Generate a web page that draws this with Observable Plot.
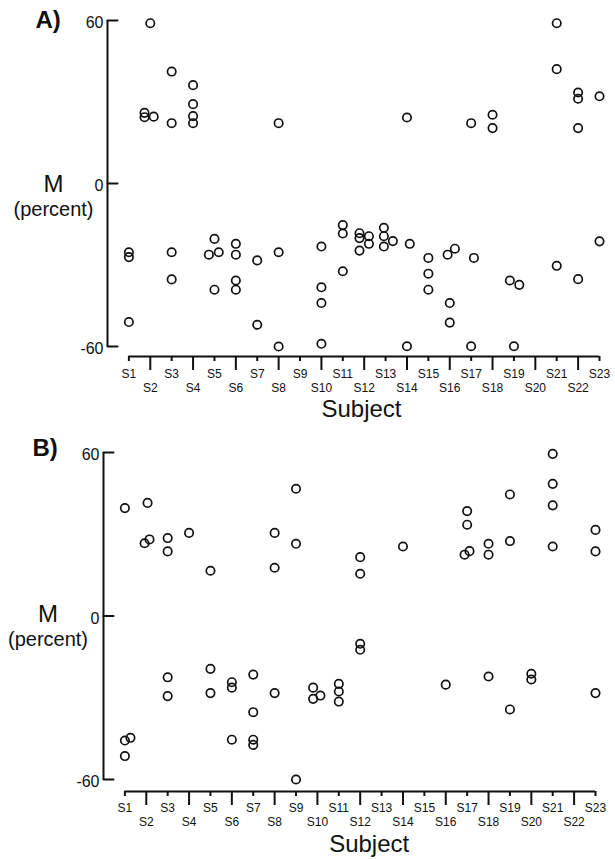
<!DOCTYPE html>
<html><head><meta charset="utf-8">
<script src="https://cdn.jsdelivr.net/npm/d3@7"></script>
<script src="https://cdn.jsdelivr.net/npm/@observablehq/plot@0.6"></script>
<style>body{margin:0;background:#fff} svg{display:block}</style>
</head><body><div id="chart"></div>
<script>
const subjects = ["S1","S2","S3","S4","S5","S6","S7","S8","S9","S10","S11","S12","S13","S14","S15","S16","S17","S18","S19","S20","S21","S22","S23"];
const yTicks = [-60, 0, 60];
const yLabel = "M";
const yUnit = "(percent)";
const xLabel = "Subject";
const panelTags = ["A)", "B)"];

// [subject, M (percent), horizontal jitter in subject units]
const pointsA = [
  ["S1",-25.3,0],["S1",-27.1,0],["S1",-51.0,0],
  ["S2",59.0,0],["S2",26.0,-0.27],["S2",24.4,-0.27],["S2",24.6,0.16],
  ["S3",41.2,0],["S3",22.2,0],["S3",-25.3,0],["S3",-35.3,0],
  ["S4",36.2,0],["S4",29.2,0],["S4",24.8,0],["S4",22.2,0],
  ["S5",-20.4,0],["S5",-26.2,-0.26],["S5",-25.3,0.2],["S5",-39.1,0],
  ["S6",-22.2,0],["S6",-26.2,0],["S6",-35.7,0],["S6",-39.1,0],
  ["S7",-28.3,0],["S7",-52.0,0],
  ["S8",22.2,0],["S8",-25.3,0],["S8",-60.0,0],
  ["S10",-23.2,0],["S10",-38.2,0],["S10",-44.0,0],["S10",-59.0,0],
  ["S11",-15.3,0],["S11",-18.4,0],["S11",-32.3,0],
  ["S12",-18.3,-0.22],["S12",-20.1,-0.22],["S12",-24.7,-0.22],["S12",-19.4,0.22],["S12",-22.2,0.22],
  ["S13",-16.3,-0.08],["S13",-19.4,-0.08],["S13",-23.2,-0.08],["S13",-21.2,0.34],
  ["S14",24.3,0],["S14",-22.2,0.13],["S14",-59.9,0],
  ["S15",-27.4,0],["S15",-33.2,0],["S15",-39.1,0],
  ["S16",-26.2,-0.1],["S16",-24.0,0.24],["S16",-44.0,0],["S16",-51.2,0],
  ["S17",22.2,0],["S17",-27.4,0.13],["S17",-59.9,0],
  ["S18",25.3,0],["S18",20.4,0],
  ["S19",-35.7,-0.19],["S19",-37.3,0.25],["S19",-59.9,0],
  ["S21",59.0,0],["S21",42.1,0],["S21",-30.3,0],
  ["S22",33.5,0],["S22",31.2,0],["S22",20.4,0],["S22",-35.2,0],
  ["S23",32.1,0],["S23",-21.3,0]
];

const pointsB = [
  ["S1",39.6,0],["S1",-45.7,0],["S1",-44.7,0.26],["S1",-51.4,0],
  ["S2",41.5,0.06],["S2",26.7,-0.08],["S2",28.1,0.15],
  ["S3",28.6,0],["S3",23.7,0],["S3",-22.5,0],["S3",-29.4,0],
  ["S4",30.5,0],
  ["S5",16.6,0],["S5",-19.4,0],["S5",-28.3,0],
  ["S6",-24.3,0],["S6",-26.3,0],["S6",-45.4,0],
  ["S7",-21.5,0],["S7",-35.3,0],["S7",-45.4,0],["S7",-47.3,0],
  ["S8",30.5,0],["S8",17.7,0],["S8",-28.3,0],
  ["S9",46.7,0],["S9",26.5,0],["S9",-60.0,0],
  ["S10",-26.3,-0.2],["S10",-30.4,-0.2],["S10",-29.2,0.14],
  ["S11",-24.9,0],["S11",-27.7,0],["S11",-31.4,0],
  ["S12",21.6,0],["S12",15.5,0],["S12",-10.2,0],["S12",-12.4,0],
  ["S14",25.5,0],
  ["S16",-25.2,0],
  ["S17",38.5,0],["S17",33.5,0],["S17",22.5,-0.12],["S17",23.8,0.11],
  ["S18",26.5,0],["S18",22.5,0],["S18",-22.2,0],
  ["S19",44.6,0],["S19",27.5,0],["S19",-34.3,0],
  ["S20",-21.2,0],["S20",-23.3,0],
  ["S21",59.5,0],["S21",48.5,0],["S21",40.6,0],["S21",25.5,0],
  ["S23",31.6,0],["S23",23.7,0],["S23",-28.3,0]
];

const font = "'Liberation Sans', Arial, Helvetica, sans-serif";
const tickLine = {draw(context, l) { context.moveTo(0, 0); context.lineTo(0, -l); }};

function panel(cfg) {
  const n = subjects.length;
  const rows = cfg.points.map(([s, m, j]) => ({x: subjects.indexOf(s) + 1 + j, m}));
  const idx = d3.range(1, n + 1);
  const odd = idx.filter(i => i % 2 === 1);
  const even = idx.filter(i => i % 2 === 0);
  const fmt = i => subjects[i - 1];
  const y0 = yTicks[0], y1 = yTicks[yTicks.length - 1];
  return Plot.plot({
    width: 615,
    height: cfg.height,
    marginTop: cfg.mt, marginBottom: cfg.mb, marginLeft: cfg.ml, marginRight: cfg.mr,
    x: {domain: [0, n]},
    y: {domain: [y0, y1]},
    style: {fontFamily: font, background: "#fff", color: "#111", overflow: "visible"},
    marks: [
      Plot.ruleX([0], {y1: y0, y2: y1, strokeWidth: 2}),
      Plot.vector(yTicks, {x: 0, y: d => d, length: 10, rotate: 90, anchor: "start", shape: tickLine, strokeWidth: 2, stroke: "#111"}),
      Plot.axisY({ticks: yTicks, tickFormat: d => String(d), tickSize: 0, tickPadding: 4, fontSize: 16, dy: 2.5, label: null}),
      Plot.ruleY([y0], {x1: idx[0], x2: idx[n - 1], dy: cfg.xoff, strokeWidth: 2}),
      Plot.axisX({ticks: odd, tickFormat: fmt, tickSize: 5, tickPadding: cfg.padOdd, dy: cfg.xoff, fontSize: 12, strokeWidth: 2, label: null}),
      Plot.axisX({ticks: even, tickFormat: fmt, tickSize: 14, tickPadding: cfg.padEven, dy: cfg.xoff, fontSize: 12, strokeWidth: 2, label: null}),
      Plot.dot(rows, {x: "x", y: "m", r: 4.2, stroke: "#111", strokeWidth: 1.7, fill: "none"}),
      Plot.text([cfg.tag], {frameAnchor: "top-left", dx: cfg.tagDx, dy: cfg.tagDy, fontSize: 24, fontWeight: "bold", textAnchor: "start", lineAnchor: "middle"}),
      Plot.text([yLabel], {frameAnchor: "left", dx: cfg.labDx, dy: cfg.mDy, fontSize: 24, textAnchor: "middle", lineAnchor: "middle"}),
      Plot.text([yUnit], {frameAnchor: "left", dx: cfg.labDx, dy: cfg.pDy, fontSize: 20, textAnchor: "middle", lineAnchor: "middle"}),
      Plot.text([xLabel], {frameAnchor: "bottom", x: (idx[0] + idx[n - 1]) / 2, dx: cfg.sDx, dy: cfg.sDy, fontSize: 24, textAnchor: "middle", lineAnchor: "middle"})
    ]
  });
}

const chart = document.getElementById("chart");
chart.append(panel({
  points: pointsA, tag: panelTags[0], height: 430, mt: 20, mb: 84, ml: 107, mr: 16,
  xoff: 10, padOdd: 7.8, padEven: 13.2, tagDx: -72, tagDy: 0,
  labDx: -54, mDy: 1.3, pDy: 26, sDx: -2.7, sDy: 63.3
}));
chart.append(panel({
  points: pointsB, tag: panelTags[1], height: 429, mt: 22, mb: 80, ml: 103, mr: 20,
  xoff: 12, padOdd: 7.2, padEven: 11.5, tagDx: -71, tagDy: -3.7,
  labDx: -55.5, mDy: -1.5, pDy: 23.5, sDx: 9, sDy: 65
}));
</script>
</body></html>
